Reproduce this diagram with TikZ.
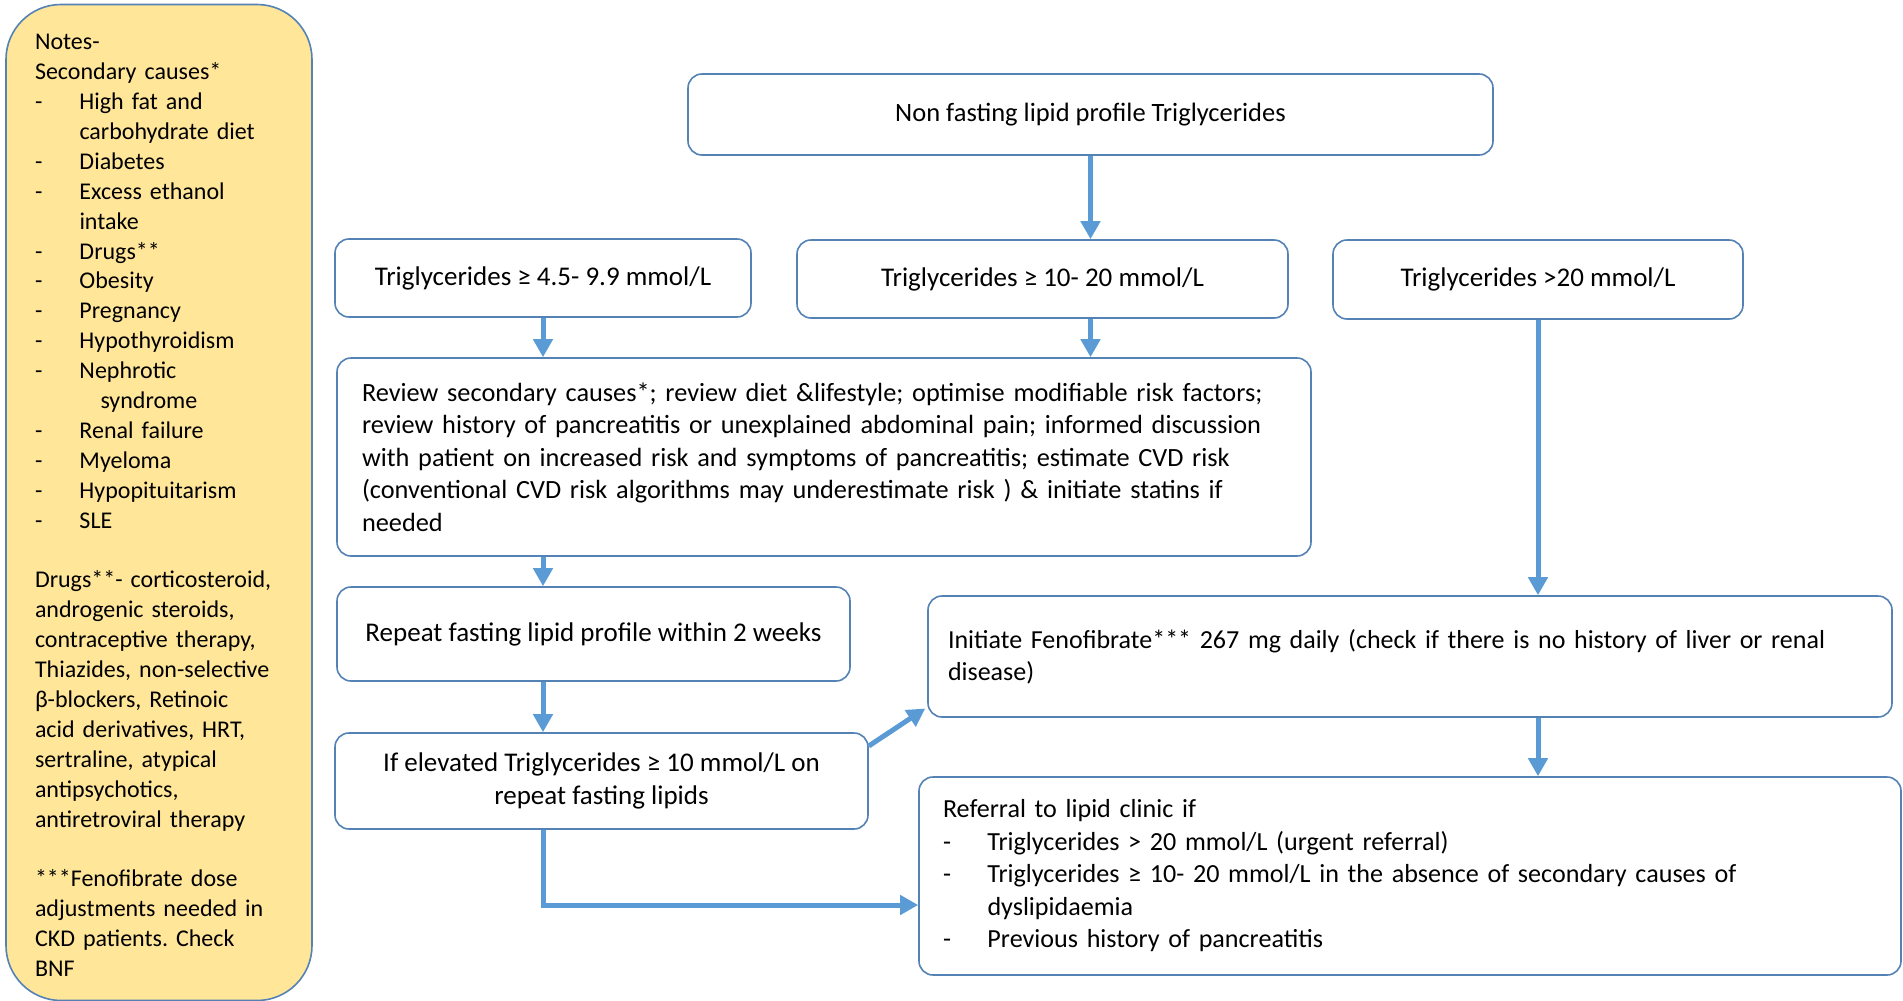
\documentclass[tikz,border=0pt]{standalone}
\usepackage{fontspec}
\setmainfont{Carlito}
\frenchspacing
\usetikzlibrary{arrows.meta,calc}
\definecolor{boxline}{RGB}{84,130,180}
\definecolor{arrowblue}{RGB}{91,155,213}
\definecolor{notefill}{RGB}{255,230,153}
\tikzset{
  flowbox/.style={draw=boxline, line width=1.6pt, rounded corners=14pt, fill=white, inner sep=0pt,
    font=\fontsize{26pt}{32.5pt}\selectfont},
  bigfont/.style={font=\fontsize{27pt}{32.8pt}\selectfont},
  flowarrow/.style={draw=arrowblue, line width=5pt, -{Triangle[length=18pt,width=19pt]}},
  notebox/.style={draw=boxline, line width=1.6pt, rounded corners=55pt, fill=notefill, inner sep=0pt,
    font=\fontsize{24pt}{29.9pt}\selectfont}
}
\newcommand{\dashitem}[1]{\makebox[44.5pt][l]{-}#1}
\newcommand{\contitem}[1]{\hspace*{44.5pt}#1}
\begin{document}
\begin{tikzpicture}[x=1pt,y=-1pt]
\useasboundingbox (0,0) rectangle (1903,1001);

% notes box and its text
\node[notebox, minimum width=306pt, minimum height=996pt] (notes) at (159,502.5) {};
\node[font=\fontsize{24pt}{29.9pt}\selectfont, inner sep=0pt, text width=248pt, align=left]
  (notestext) at (159,505.5) {%
  Notes-\\
  Secondary causes*\\
  \dashitem{High fat and}\\
  \contitem{carbohydrate diet}\\
  \dashitem{Diabetes}\\
  \dashitem{Excess ethanol}\\
  \contitem{intake}\\
  \dashitem{Drugs**}\\
  \dashitem{Obesity}\\
  \dashitem{Pregnancy}\\
  \dashitem{Hypothyroidism}\\
  \dashitem{Nephrotic}\\
  \contitem{\hspace*{21pt}syndrome}\\
  \dashitem{Renal failure}\\
  \dashitem{Myeloma}\\
  \dashitem{Hypopituitarism}\\
  \dashitem{SLE}\\[29.9pt]
  Drugs**- corticosteroid,\\
  androgenic steroids,\\
  contraceptive therapy,\\
  Thiazides, non-selective\\
  β-blockers, Retinoic\\
  acid derivatives, HRT,\\
  sertraline, atypical\\
  antipsychotics,\\
  antiretroviral therapy\\[29.9pt]
  ***Fenofibrate dose\\
  adjustments needed in\\
  CKD patients. Check\\
  BNF};

% top
\node[flowbox, minimum width=805pt, minimum height=81pt, font=\fontsize{26.5pt}{32.5pt}\selectfont]
  (top) at (1090.5,114.5) {Non fasting lipid profile Triglycerides};

% three triglyceride ranges
\node[flowbox, bigfont, minimum width=416pt, minimum height=78pt] (tri1) at (543,278)
  {Triglycerides ≥ 4.5- 9.9 mmol/L};
\node[flowbox, bigfont, minimum width=491pt, minimum height=78pt] (tri2) at (1042.5,279)
  {Triglycerides ≥ 10- 20 mmol/L};
\node[flowbox, bigfont, minimum width=410pt, minimum height=79pt] (tri3) at (1538,279.5)
  {Triglycerides >20 mmol/L};

% review
\node[flowbox, font=\fontsize{26.3pt}{32.5pt}\selectfont, minimum width=974pt, minimum height=198pt, text width=924pt, align=left]
  (review) at (824,457) {%
  Review secondary causes*; review diet \&lifestyle; optimise modifiable risk factors;\\
  review history of pancreatitis or unexplained abdominal pain; informed discussion\\
  with patient on increased risk and symptoms of pancreatitis; estimate CVD risk\\
  (conventional CVD risk algorithms may underestimate risk ) \& initiate statins if\\
  needed};

% repeat
\node[flowbox, bigfont, minimum width=513pt, minimum height=94pt] (repeat) at (593.5,634)
  {Repeat fasting lipid profile within 2 weeks};

% if elevated
\node[flowbox, bigfont, minimum width=533pt, minimum height=96pt, align=center] (ifel) at (601.5,781)
  {If elevated Triglycerides ≥ 10 mmol/L on\\ repeat fasting lipids};

% fenofibrate
\node[flowbox, font=\fontsize{26pt}{31.6pt}\selectfont, minimum width=964pt, minimum height=121pt, text width=924pt, align=left]
  (feno) at (1410,656.5) {%
  Initiate Fenofibrate*** 267 mg daily (check if there is no history of liver or renal\\
  disease)};

% referral
\node[flowbox, font=\fontsize{26.1pt}{32.5pt}\selectfont, minimum width=982pt, minimum height=198pt, text width=934pt, align=left]
  (ref) at (1410,876) {%
  Referral to lipid clinic if\\
  \dashitem{Triglycerides > 20 mmol/L (urgent referral)}\\
  \dashitem{Triglycerides ≥ 10- 20 mmol/L in the absence of secondary causes of}\\
  \contitem{dyslipidaemia}\\
  \dashitem{Previous history of pancreatitis}};

% arrows
\draw[flowarrow] (top.south) -- (top.south |- tri2.north);
\draw[flowarrow] (tri1.south) -- (tri1.south |- review.north);
\draw[flowarrow] (tri2.south -| top.south) -- (review.north -| top.south);
\draw[flowarrow] (tri3.south) -- (tri3.south |- feno.north);
\draw[flowarrow] (review.south -| tri1.south) -- (repeat.north -| tri1.south);
\draw[flowarrow] (repeat.south -| tri1.south) -- (ifel.north -| tri1.south);
\draw[flowarrow] ([yshift=35pt]ifel.east) -- ([yshift=-52pt,xshift=-2pt]feno.west);
\draw[flowarrow] (feno.south -| tri3.south) -- (ref.north -| tri3.south);
\draw[flowarrow] (ifel.south -| tri1.south) |- ([yshift=-29pt]ref.west);
\end{tikzpicture}
\end{document}
